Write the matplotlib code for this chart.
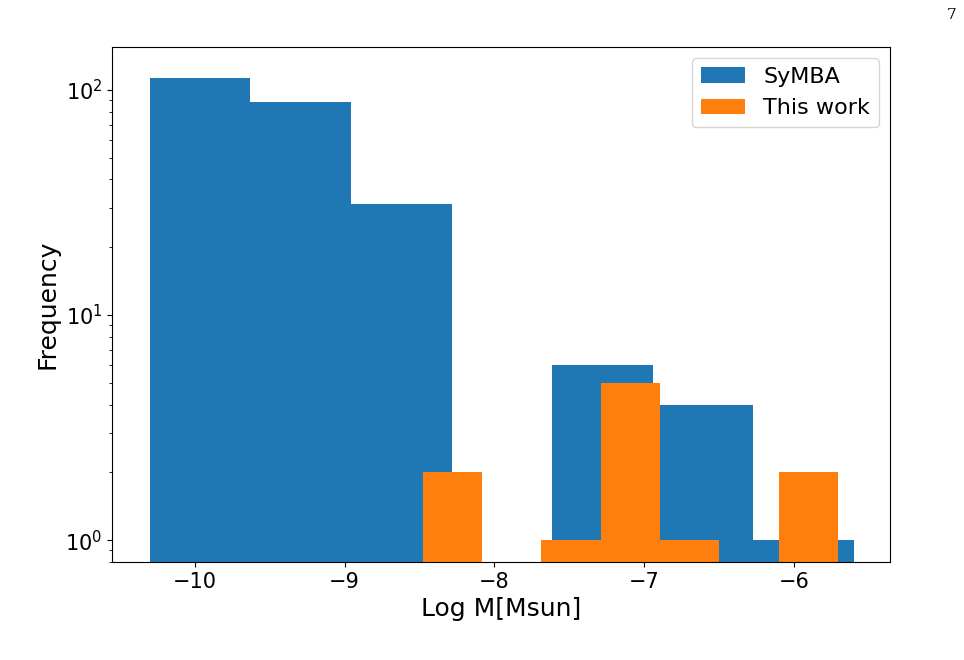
import numpy as np
import matplotlib.pyplot as plt

symba_edges = np.linspace(-10.30, -5.60, 8)
symba_counts = [113, 88, 31, 0, 6, 4, 1]
work_edges = np.linspace(-8.48, -5.707, 8)
work_counts = [2, 0, 1, 5, 1, 0, 2]

fig = plt.figure(figsize=(9.64, 6.6), dpi=100)
ax = fig.add_axes([112/964, 1-562/660, 778/964, 515/660])
ax.hist(symba_edges[:-1], bins=symba_edges, weights=symba_counts, color='#1f77b4', label='SyMBA')
ax.hist(work_edges[:-1], bins=work_edges, weights=work_counts, color='#ff7f0e', label='This work')
ax.set_yscale('log')
ax.set_ylim(0.8, 155)
ax.set_xlim(-10.553, -5.36)
ax.set_xticks([-10, -9, -8, -7, -6])
ax.tick_params(labelsize=15)
ax.set_xlabel('Log M[Msun]', fontsize=18)
ax.set_ylabel('Frequency', fontsize=18)
ax.legend(fontsize=16, loc='upper right')
fig.text(952/964, 1-15/660, '7', fontsize=11, family='DejaVu Serif', ha='center', va='center')
fig.savefig('out.png')
